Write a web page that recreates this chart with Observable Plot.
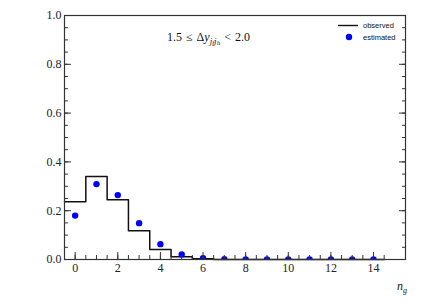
<!DOCTYPE html>
<html><head><meta charset="utf-8">
<script src="https://cdn.jsdelivr.net/npm/d3@7"></script>
<script src="https://cdn.jsdelivr.net/npm/@observablehq/plot@0.6"></script>
<style>body{margin:0;background:#fff} svg text{font-family:"Liberation Serif", serif}</style>
</head><body><div id="chart"></div>
<script>
const ng = [0,1,2,3,4,5,6,7,8,9,10,11,12,13,14];
const observed  = [0.237,0.340,0.245,0.118,0.041,0.011,0.003,0,0,0,0,0,0,0,0];
const estimated = [0.180,0.309,0.264,0.149,0.063,0.021,0.005,0.001,0.0005,0.0005,0.0005,0.0005,0.0005,0.0005,0.0005];
const xMajor = [0,2,4,6,8,10,12,14];
const xMinor = d3.range(0, 31).map(i => -0.5 + i*0.5).filter(v => v > -0.5 && v < 15.5);
const yMajor = [0,0.2,0.4,0.6,0.8,1.0];
const yMinor = d3.range(0, 21).map(i => i*0.05);
const yLabels = ["0.0","0.2","0.4","0.6","0.8","1.0"];
const seriesNames = ["observed","estimated"];

// step outline from bin edges
const steps = ng.map((n,i) => ({x: n - 0.5, y: observed[i]}));
steps.push({x: ng[ng.length-1] + 0.5, y: observed[observed.length-1]});
const pts = ng.map((n,i) => ({x: n, y: estimated[i]}));

const W = 427, H = 305;
const serif = "Liberation Serif";
const chart = Plot.plot({
  width: W, height: H,
  marginLeft: 64, marginRight: 22, marginTop: 15, marginBottom: 46,
  style: {fontFamily: serif, fontSize: "12px", background: "#fff", color: "#222"},
  x: {domain: [-0.5, 15.5]},
  y: {domain: [0, 1]},
  marks: [
    Plot.line(steps, {x: "x", y: "y", curve: "step-after", stroke: "#111", strokeWidth: 1.5}),
    Plot.dot(pts, {x: "x", y: "y", r: 3.2, fill: "#0000ff", clip: true}),
    Plot.frame({stroke: "#333", strokeWidth: 1.2}),
    Plot.axisX(xMinor, {anchor: "bottom", tickSize: -4, tickFormat: () => "", label: null, stroke: "#333"}),
    Plot.axisX(xMajor, {anchor: "bottom", tickSize: -7, tickFormat: () => "", label: null, stroke: "#333"}),
    Plot.axisX(xMajor, {anchor: "bottom", tickSize: 0, tickPadding: 4, tickFormat: d => String(d), label: null, fontSize: 12, fontFamily: serif, fill: "#222"}),
    Plot.axisY(yMinor, {anchor: "left", tickSize: -4, tickFormat: () => "", label: null, stroke: "#333"}),
    Plot.axisY(yMajor, {anchor: "left", tickSize: -7, tickFormat: () => "", label: null, stroke: "#333"}),
    Plot.axisY(yMajor, {anchor: "left", tickSize: 0, tickPadding: 3, tickFormat: (d, i) => yLabels[i], label: null, fontSize: 12, fontFamily: serif, fill: "#222"}),
    Plot.axisY(yMinor, {anchor: "right", tickSize: -4, tickFormat: () => "", label: null, stroke: "#333"}),
    Plot.axisY(yMajor, {anchor: "right", tickSize: -7, tickFormat: () => "", label: null, stroke: "#333"})
  ]
});
document.getElementById("chart").appendChild(chart);

const svg = d3.select(chart);
// annotation
const ann = svg.append("text").attr("x", 167).attr("y", 41).attr("text-anchor", "start")
  .attr("font-family", serif).attr("font-size", 12).attr("fill", "#111");
ann.append("tspan").text("1.5\u2004≤\u2004Δ");
ann.append("tspan").attr("font-style", "italic").text("y");
ann.append("tspan").attr("font-style", "italic").attr("font-size", 9).attr("dy", 2.5).text("j");
ann.append("tspan").attr("font-style", "italic").attr("font-size", 7).attr("dy", 1).text("f");
ann.append("tspan").attr("font-style", "italic").attr("font-size", 9).attr("dy", -1).text("j");
ann.append("tspan").attr("font-style", "italic").attr("font-size", 7).attr("dy", 1).text("h");
ann.append("tspan").attr("dy", -3.5).text("\u2004<\u20042.0");

// legend
const lg = svg.append("g").attr("text-anchor", "start");
lg.append("line").attr("x1", 338).attr("x2", 358).attr("y1", 25.5).attr("y2", 25.5).attr("stroke", "#111").attr("stroke-width", 1.4);
lg.append("text").attr("x", 363).attr("y", 28).attr("fill", "#111").style("font-family", "Liberation Sans").style("font-size", "7.5px").text(seriesNames[0]);
lg.append("circle").attr("cx", 349).attr("cy", 37).attr("r", 3.2).attr("fill", "#0000ff");
lg.append("text").attr("x", 363).attr("y", 40).attr("fill", "#111").style("font-family", "Liberation Sans").style("font-size", "7.5px").text(seriesNames[1]);

// x label
const xl = svg.append("text").attr("x", 407).attr("y", 290).attr("text-anchor", "end")
  .attr("font-family", serif).attr("font-size", 12).attr("font-style", "italic").attr("fill", "#111");
xl.append("tspan").text("n");
xl.append("tspan").attr("font-size", 8).attr("dy", 2.5).text("g");
</script>
</body></html>
